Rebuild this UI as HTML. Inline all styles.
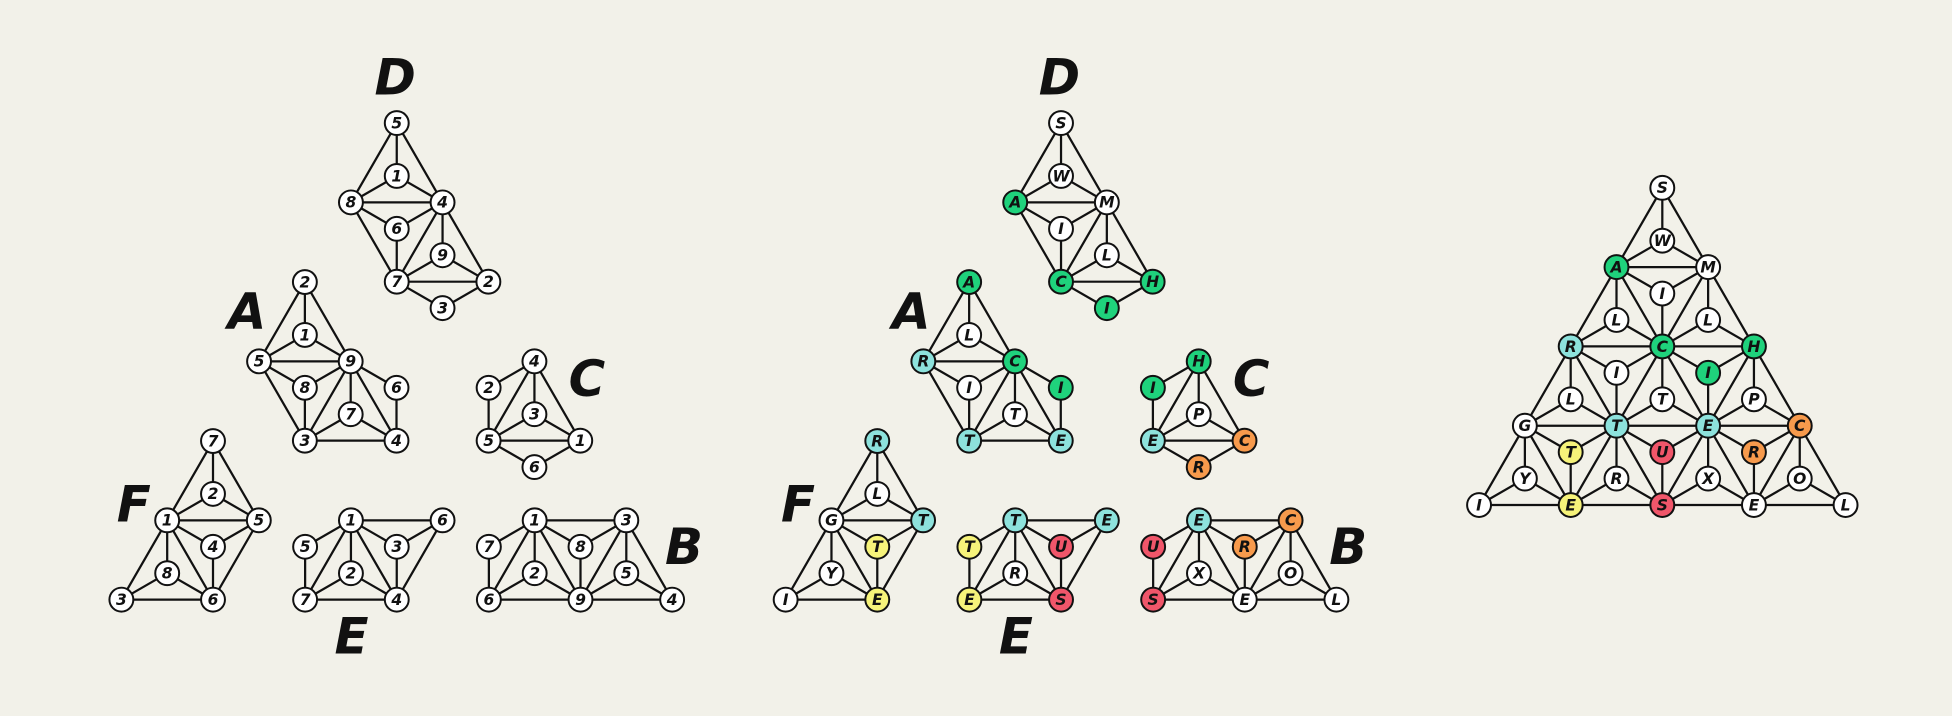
<!DOCTYPE html>
<html><head><meta charset="utf-8"><style>
html,body{margin:0;padding:0;background:#f2f1e9;}
svg{display:block;}
text{font-family:"DejaVu Sans","Liberation Sans",sans-serif;}
</style></head><body>
<svg id="chart" width="1952" height="716" viewBox="0 0 1568 575" xmlns="http://www.w3.org/2000/svg">
<rect width="1568" height="575" fill="#f2f1e9"/>
<g id="edges"></g>
<g id="nodes"></g>
<g id="labels"></g>
</svg>
<script>
// lattice letters (big vertices by row)
const bigLetters = [['S'],['A','M'],['R','C','H'],['G','T','E','C'],['I','E','S','E','L']];
const bigColors = [['w'],['g','w'],['c','g','g'],['w','c','c','o'],['w','y','r','w','w']];
// up-triangle centroid letters rows 0..3
const upLetters = [['W'],['L','L'],['L','T','P'],['Y','R','X','O']];
const upColors = [['w'],['w','w'],['w','w','w'],['w','w','w','w']];
// down-triangle centroid letters rows 1..3
const downLetters = [['I'],['I','I'],['T','U','R']];
const downColors = [['w'],['w','g'],['y','r','o']];
// pieces
const pieceNames = ['D','A','C','F','E','B'];
const pieceNodes = [
 ['B00','U00','B10','B11','D10','B21','U11','B22','D21'],
 ['B10','U10','B20','B21','D20','D21','U21','B31','B32'],
 ['B22','D21','U22','B32','B33','D32'],
 ['B20','U20','B30','B31','D30','U30','B40','B41'],
 ['B31','B32','D30','D31','U31','B41','B42'],
 ['B32','D31','D32','B33','U32','U33','B42','B43','B44']
];
const pieceNumbers = [
 [5,1,8,4,6,7,9,2,3],
 [2,1,5,9,8,6,7,3,4],
 [4,2,3,5,1,6],
 [7,2,1,5,4,8,3,6],
 [1,6,5,3,2,7,4],
 [1,7,8,3,2,5,6,9,4]
];
const pieceShiftX = [-483,-520,-446,-557,-483,-409];
const pieceShiftY = [-52,12,12,76,76,76];
const labelX = [851,732,1005,641,816,1083];
const labelY = [62,250,304,405,511,439];

const U=73.6, H=63.7, X0=1335.3, Y0=150.8, R=9.6, LEFT=-533.6;
const COL={w:'#ffffff',g:'#1fd27c',c:'#8de2dc',y:'#f6f37a',r:'#f0566a',o:'#f79a4c'};
const NS='http://www.w3.org/2000/svg';
const nodes={};
function bp(r,k){return [X0+(k-r/2)*U, Y0+r*H];}
for(let r=0;r<5;r++)for(let k=0;k<=r;k++){const p=bp(r,k);nodes['B'+r+k]={x:p[0],y:p[1],t:bigLetters[r][k],c:bigColors[r][k]};}
for(let r=0;r<4;r++)for(let k=0;k<=r;k++){const a=bp(r,k),b=bp(r+1,k),c=bp(r+1,k+1);
 nodes['U'+r+k]={x:(a[0]+b[0]+c[0])/3,y:(a[1]+b[1]+c[1])/3,t:upLetters[r][k],c:upColors[r][k],v:['B'+r+k,'B'+(r+1)+k,'B'+(r+1)+(k+1)]};}
for(let r=1;r<4;r++)for(let k=0;k<r;k++){const a=bp(r,k),b=bp(r,k+1),c=bp(r+1,k+1);
 nodes['D'+r+k]={x:(a[0]+b[0]+c[0])/3,y:(a[1]+b[1]+c[1])/3,t:downLetters[r-1][k],c:downColors[r-1][k],v:['B'+r+k,'B'+r+(k+1),'B'+(r+1)+(k+1)]};}
const edges=[];
for(let r=0;r<5;r++)for(let k=0;k<=r;k++){
 if(k<r)edges.push(['B'+r+k,'B'+r+(k+1)]);
 if(r<4){edges.push(['B'+r+k,'B'+(r+1)+k]);edges.push(['B'+r+k,'B'+(r+1)+(k+1)]);}
}
for(const id in nodes){if(nodes[id].v)nodes[id].v.forEach(v=>edges.push([id,v]));}

const eg=document.getElementById('edges'),ng=document.getElementById('nodes'),lg=document.getElementById('labels');
function line(a,b,dx,dy){const l=document.createElementNS(NS,'line');
 l.setAttribute('x1',a.x+dx);l.setAttribute('y1',a.y+dy);l.setAttribute('x2',b.x+dx);l.setAttribute('y2',b.y+dy);
 l.setAttribute('stroke','#111');l.setAttribute('stroke-width','1.8');
 
 
 eg.appendChild(l);}
function node(n,dx,dy,txt,fill){const g=document.createElementNS(NS,'g');
 
 
 const c=document.createElementNS(NS,'circle');c.setAttribute('cx',n.x+dx);c.setAttribute('cy',n.y+dy);c.setAttribute('r',R);
 c.setAttribute('fill',fill);c.setAttribute('stroke','#111');c.setAttribute('stroke-width','1.6');g.appendChild(c);
 const t=document.createElementNS(NS,'text');t.setAttribute('x',n.x+dx);t.setAttribute('y',n.y+dy+4.3);t.setAttribute('text-anchor','middle');
 t.setAttribute('font-size','12.5');t.setAttribute('font-weight','bold');t.setAttribute('font-style','italic');t.setAttribute('fill','#111');
 t.textContent=txt;g.appendChild(t);ng.appendChild(g);}
function draw(ids,dx,dy,labels,colored){
 const set=new Set(ids);
 edges.forEach(e=>{if(set.has(e[0])&&set.has(e[1]))line(nodes[e[0]],nodes[e[1]],dx,dy);});
 ids.forEach((id,i)=>{const n=nodes[id];node(n,dx,dy,labels?String(labels[i]):n.t,colored?COL[n.c]:'#ffffff');});
}
function label(txt,x,y){const t=document.createElementNS(NS,'text');
 t.setAttribute('x',x);t.setAttribute('y',y+14);t.setAttribute('text-anchor','middle');t.setAttribute('font-size','40');
 t.setAttribute('font-weight','900');t.setAttribute('font-style','italic');t.setAttribute('fill','#111');
 
 
 t.textContent=txt;lg.appendChild(t);}
// big triangle
draw(Object.keys(nodes),0,0,null,true);
pieceNodes.forEach((ids,i)=>{
 draw(ids,pieceShiftX[i],pieceShiftY[i],null,true);
 draw(ids,pieceShiftX[i]+LEFT,pieceShiftY[i],pieceNumbers[i],false);
 label(pieceNames[i],labelX[i],labelY[i]);
 label(pieceNames[i],labelX[i]+LEFT,labelY[i]);
});
</script>
</body></html>
